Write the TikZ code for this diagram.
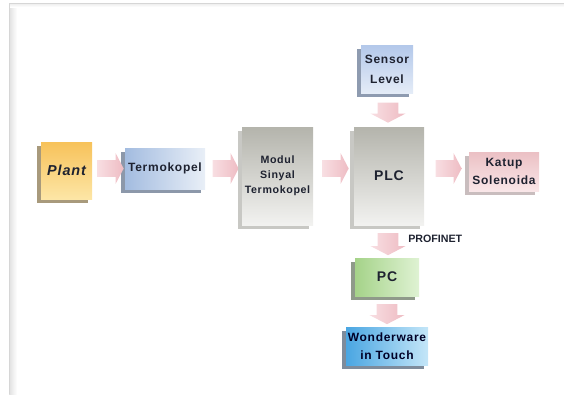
\documentclass[tikz,border=0pt]{standalone}
\usepackage{fontspec}
\setmainfont{Liberation Sans}
\newfontfamily\lsp[LetterSpace=6]{Liberation Sans}
\usetikzlibrary{shapes.arrows,shadows,calc}
\definecolor{txt}{HTML}{1E2230}
\definecolor{plantA}{HTML}{F7C25A}
\definecolor{plantB}{HTML}{FDE6A6}
\definecolor{plantS}{HTML}{A89A7C}
\definecolor{termoA}{HTML}{A3BCE0}
\definecolor{termoB}{HTML}{E9EFF7}
\definecolor{termoS}{HTML}{8C98AA}
\definecolor{grayA}{HTML}{B4B4AC}
\definecolor{grayB}{HTML}{F2F2F0}
\definecolor{grayS}{HTML}{C8C8C4}
\definecolor{sensA}{HTML}{B3C8EA}
\definecolor{sensB}{HTML}{E4ECF7}
\definecolor{sensS}{HTML}{8E9BB0}
\definecolor{katA}{HTML}{EBC0C4}
\definecolor{katB}{HTML}{F9E6E8}
\definecolor{katS}{HTML}{C9BDBE}
\definecolor{pcA}{HTML}{A5D389}
\definecolor{pcB}{HTML}{DFF2D3}
\definecolor{pcS}{HTML}{8F9A8A}
\definecolor{wwA}{HTML}{4AA6E2}
\definecolor{wwB}{HTML}{C4E6F8}
\definecolor{wwS}{HTML}{7E8C9C}
\definecolor{arrA}{HTML}{F8DEE2}
\definecolor{arrB}{HTML}{EEBCC3}
\definecolor{framecol}{HTML}{D6D6D6}
\begin{document}
\begin{tikzpicture}[x=0.75pt,y=-0.75pt,
  box/.style={inner sep=0pt, align=center, text=txt, font=\lsp\bfseries\fontsize{9}{15}\selectfont},
  sz/.style 2 args={minimum width=#1*0.75pt, minimum height=#2*0.75pt},
  shd/.style={drop shadow={shadow xshift=-3pt, shadow yshift=-3pt, opacity=1, fill=#1}},
  harr/.style={single arrow, draw=none, inner xsep=0pt, inner ysep=6pt,
    single arrow head extend=5.25pt, single arrow tip angle=125,
    minimum height=19.5pt, left color=arrA, right color=arrB},
  varr/.style={harr, rotate=-90, inner ysep=7.5pt, single arrow head extend=5.5pt}
]
\useasboundingbox (0,0) rectangle (564,394);
% frame
\fill[left color=black!12, right color=white] (9,3) rectangle (17,394);
\fill[top color=black!8, bottom color=white] (9,3) rectangle (564,7);
\draw[framecol, line width=0.75pt] (9,394) -- (9,3) -- (564,3);

% boxes
\node[box, shd=plantS, top color=plantA, bottom color=plantB, sz={51}{57},
      font=\lsp\bfseries\itshape\fontsize{10.8}{13}\selectfont] (plant) at (66.5,170.5) {Plant};
\node[box, shd=termoS, left color=termoA, right color=termoB, sz={80}{41}] (termo) at (165,168.5) {Termokopel};
\node[box, shd=grayS, top color=grayA, bottom color=grayB, sz={71}{98},
      font=\lsp\bfseries\fontsize{8}{11.25}\selectfont] (modul) at (277.5,176) {Modul\\Sinyal\\Termokopel};
\node[box, shd=grayS, top color=grayA, bottom color=grayB, sz={70}{98},
      font=\lsp\bfseries\fontsize{10.5}{12}\selectfont] (plc) at (389,176) {PLC};
\node[box, shd=katS, top color=katA, bottom color=katB, sz={70}{39},
      font=\lsp\bfseries\fontsize{9}{13.5}\selectfont] (katup) at (504,171.5) {Katup\\Solenoida};
\node[box, shd=sensS, top color=sensA, bottom color=sensB, sz={52}{48}] (sensor) at (387,69) {Sensor\\Level};
\node[box, shd=pcS, left color=pcA, right color=pcB, sz={64}{38},
      font=\lsp\bfseries\fontsize{10.5}{12}\selectfont] (pc) at (387,277) {PC};
\node[box, shd=wwS, left color=wwA, right color=wwB, sz={82}{38},
      font=\lsp\bfseries\fontsize{9}{13.5}\selectfont, text=black!85!blue] (ww) at (387,346) {Wonderware\\in Touch};

% arrows
\coordinate (m1) at ($(plant.east)!0.5!(termo.west)$);
\coordinate (m2) at ($(termo.east)!0.5!(modul.west)$);
\coordinate (m3) at ($(modul.east)!0.5!(plc.west)$);
\coordinate (m4) at ($(plc.east)!0.5!(katup.west)$);
\coordinate (m5) at ($(sensor.south)!0.5!(plc.north)$);
\coordinate (m6) at ($(plc.south)!0.5!(pc.north)$);
\coordinate (m7) at ($(pc.south)!0.5!(ww.north)$);
\node[harr] (a1) at (m1 |- termo.center) {};
\node[harr] (a2) at (m2 |- termo.center) {};
\node[harr] (a3) at (m3 |- termo.center) {};
\node[harr] (a4) at (m4 |- termo.center) {};
\node[varr, minimum height=15pt] (a5) at (m5) {};
\node[varr, minimum height=16.5pt] (a6) at (m6) {};
\node[varr, minimum height=15pt] (a7) at (m7) {};
\node[anchor=west, inner sep=0pt, text=txt, font=\bfseries\fontsize{8}{9}\selectfont] (prof) at ($(m6)+(20,-2.5)$) {PROFINET};
\end{tikzpicture}
\end{document}
